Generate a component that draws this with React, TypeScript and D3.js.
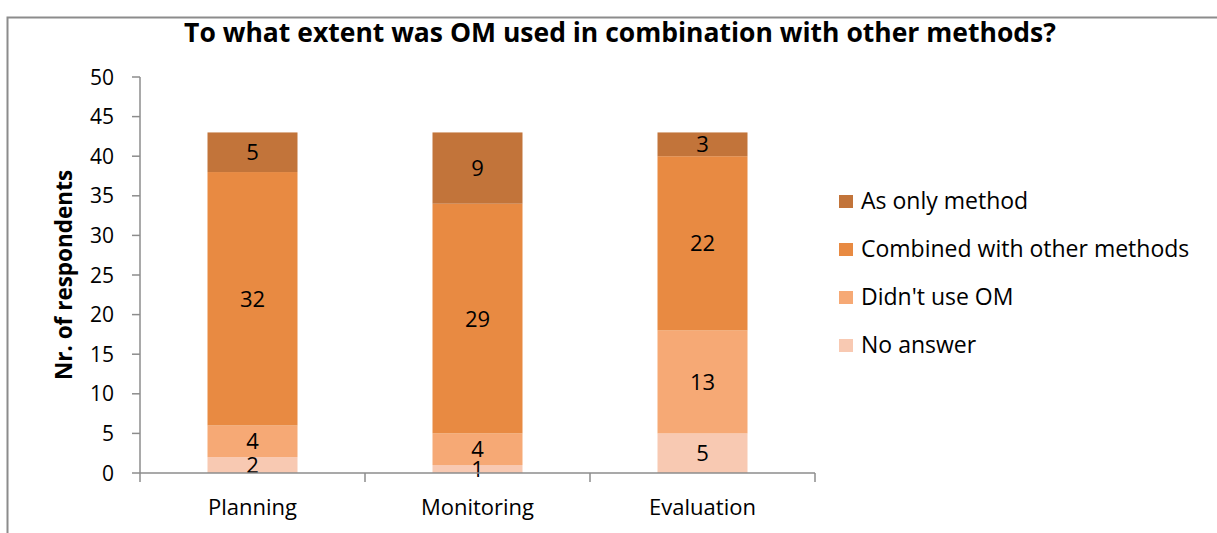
import React from 'react';
import * as d3 from 'd3';

// categories and stacked series, bottom to top
const categories = ['Planning', 'Monitoring', 'Evaluation'];
const seriesNames = ['No answer', "Didn't use OM", 'Combined with other methods', 'As only method'];
const noAnswer = [2, 1, 5];
const didntUse = [4, 4, 13];
const combined = [32, 29, 22];
const onlyMethod = [5, 9, 3];
const yTicks = [0, 5, 10, 15, 20, 25, 30, 35, 40, 45, 50];
const colors = ['#f8c9b2', '#f6a975', '#e88a42', '#c2743a'];

const W = 1217;
const H = 533;
const FONT = '"Open Sans", sans-serif';

export default function App() {
  const rows = categories.map((c, i) => ({
    cat: c,
    [seriesNames[0]]: noAnswer[i],
    [seriesNames[1]]: didntUse[i],
    [seriesNames[2]]: combined[i],
    [seriesNames[3]]: onlyMethod[i],
  }));
  const stacked = d3.stack<any>().keys(seriesNames)(rows);

  const x = d3.scaleBand().domain(categories).range([140, 815]).paddingInner(0.6).paddingOuter(0.3);
  const y = d3.scaleLinear().domain([0, 50]).range([473, 77]);
  const step = x.step();

  // legend: top item is last series
  const legendItems = seriesNames.slice().reverse();

  return (
    <svg width={W} height={H} style={{ position: 'absolute', left: 0, top: 0 }} fontFamily={FONT}>
      <rect x={0} y={0} width={W} height={H} fill="#fff" />
      {/* frame */}
      <path d={`M7.5,${H} V17.5 H${W}`} fill="none" stroke="#8c8c8c" strokeWidth={2} />

      <text x={620} y={42} textAnchor="middle" fontSize={26.5} fontWeight="bold" fill="#000">
        To what extent was OM used in combination with other methods?
      </text>

      {/* y axis */}
      <line x1={140} x2={140} y1={y(50)} y2={y(0)} stroke="#8c8c8c" strokeWidth={1.5} />
      {yTicks.map((t) => (
        <g key={t}>
          <line x1={132} x2={140} y1={y(t)} y2={y(t)} stroke="#8c8c8c" strokeWidth={1.5} />
          <text x={114} y={y(t) + 7.5} textAnchor="end" fontSize={21} fill="#000">
            {t}
          </text>
        </g>
      ))}
      <text
        transform={`translate(72, ${y(25)}) rotate(-90)`}
        textAnchor="middle"
        fontSize={22.5}
        fontWeight="bold"
        fill="#000"
      >
        Nr. of respondents
      </text>

      {/* bars */}
      {stacked.map((s, si) => (
        <g key={s.key} fill={colors[si]}>
          {s.map((d, i) => (
            <rect
              key={i}
              x={x(categories[i])}
              y={y(d[1])}
              width={x.bandwidth()}
              height={y(d[0]) - y(d[1])}
            />
          ))}
        </g>
      ))}
      {stacked.map((s) =>
        s.map((d, i) => (
          <text
            key={s.key + i}
            x={(x(categories[i]) as number) + x.bandwidth() / 2}
            y={y((d[0] + d[1]) / 2) + 8}
            textAnchor="middle"
            fontSize={22}
            fill="#000"
          >
            {d[1] - d[0]}
          </text>
        ))
      )}

      {/* x axis */}
      <line x1={140} x2={140 + step * 3} y1={y(0)} y2={y(0)} stroke="#8c8c8c" strokeWidth={1.5} />
      {[0, 1, 2, 3].map((k) => (
        <line key={k} x1={140 + step * k} x2={140 + step * k} y1={y(0)} y2={y(0) + 9} stroke="#8c8c8c" strokeWidth={1.5} />
      ))}
      {categories.map((c) => (
        <text key={c} x={(x(c) as number) + x.bandwidth() / 2} y={515} textAnchor="middle" fontSize={22} fill="#000">
          {c}
        </text>
      ))}

      {/* legend */}
      {legendItems.map((name, i) => (
        <g key={name} transform={`translate(839, ${201.5 + i * 48})`}>
          <rect x={0} y={-6.5} width={14} height={13} fill={colors[seriesNames.indexOf(name)]} />
          <text x={22} y={7.5} fontSize={23} fill="#000">
            {name}
          </text>
        </g>
      ))}
    </svg>
  );
}
